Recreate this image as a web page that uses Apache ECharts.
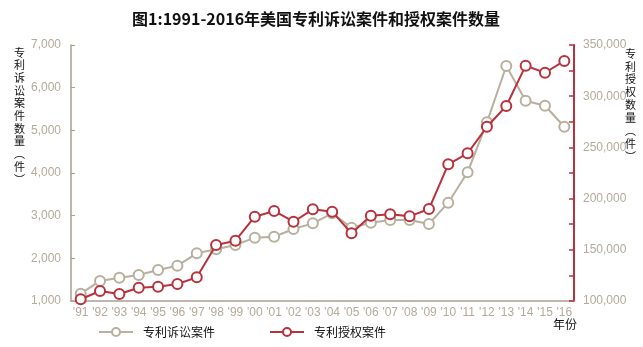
<!DOCTYPE html>
<html><head><meta charset="utf-8">
<script src="https://cdn.jsdelivr.net/npm/echarts@6/dist/echarts.min.js"></script>
<style>html,body{margin:0;padding:0;background:#fff}#c{width:643px;height:347px}</style>
</head><body><div id="c"></div>
<script>
const years = ["'91","'92","'93","'94","'95","'96","'97","'98","'99","'00","'01","'02","'03","'04","'05","'06","'07","'08","'09","'10","'11","'12","'13","'14","'15","'16"];
const litigation = [1171,1470,1546,1609,1726,1827,2117,2211,2312,2484,2507,2687,2820,3055,2718,2835,2898,2898,2805,3304,4016,5188,6508,5695,5577,5085];
const grants = [101700,109800,106800,113000,114000,116600,123100,154700,158900,182300,187900,177400,189500,187200,166100,183300,184700,182700,189800,233500,244200,270200,290400,329800,322900,334400];
const leftTicks = {min:1000,max:7000,interval:1000};
const rightTicks = {min:100000,max:350000,interval:25000};

const GRAY='#b7b09e', RED='#b8323b', LBL='#b3ab9b', AXIS='#a9a08e';
const chart = echarts.init(document.getElementById('c'));
const fmt = v => v.toString().replace(/\B(?=(\d{3})+(?!\d))/g, ',');
chart.setOption({
  animation:false,
  title:{text:'图1:1991-2016年美国专利诉讼案件和授权案件数量',left:127,top:6,
    textStyle:{fontFamily:'Noto Sans CJK SC',fontSize:16,fontWeight:'bold',color:'#111'}},
  grid:{left:71,right:69,top:45,bottom:46},
  legend:{left:93,top:321,itemWidth:34,itemHeight:10,itemGap:54,
    textStyle:{fontFamily:'Noto Sans CJK SC',fontSize:12,color:'#111',padding:[0,0,0,5]},
    data:['专利诉讼案件','专利授权案件']},
  xAxis:{type:'category',data:years,boundaryGap:true,
    axisLine:{lineStyle:{color:AXIS,width:1.5}},
    axisTick:{inside:true,length:5,lineStyle:{color:AXIS}},
    axisLabel:{color:LBL,fontFamily:'Liberation Sans',fontSize:12,margin:6,interval:0}},
  yAxis:[
    {type:'value',min:leftTicks.min,max:leftTicks.max,interval:leftTicks.interval,position:'left',
     splitLine:{show:false},
     axisLine:{show:true,lineStyle:{color:AXIS,width:1.5}},
     axisTick:{show:true,inside:true,length:4,lineStyle:{color:AXIS}},
     axisLabel:{color:LBL,fontFamily:'Liberation Sans',fontSize:12,margin:10,formatter:fmt}},
    {type:'value',min:rightTicks.min,max:rightTicks.max,interval:rightTicks.interval,position:'right',
     splitLine:{show:false},
     axisLine:{show:true,lineStyle:{color:RED,width:2}},
     axisTick:{show:true,inside:true,length:5,lineStyle:{color:RED,width:1.5}},
     axisLabel:{color:LBL,fontFamily:'Liberation Sans',fontSize:12,margin:9,
       formatter:v=> (v%50000===0? fmt(v):'')}}
  ],
  series:[
    {name:'专利诉讼案件',type:'line',yAxisIndex:0,data:litigation,symbol:'circle',symbolSize:10,
     lineStyle:{color:GRAY,width:2},itemStyle:{color:'#fff',borderColor:GRAY,borderWidth:2},color:GRAY,z:2},
    {name:'专利授权案件',type:'line',yAxisIndex:1,data:grants,symbol:'circle',symbolSize:10,
     lineStyle:{color:RED,width:2},itemStyle:{color:'#fff',borderColor:RED,borderWidth:2},color:RED,z:3}
  ],
  graphic:[
    {type:'text',left:14,top:46,style:{text:'专\n利\n诉\n讼\n案\n件\n数\n量\n︵\n件\n︶',
      font:'11px "Noto Sans CJK SC"',lineHeight:12.7,fill:'#111'}},
    {type:'text',left:625,top:47,style:{text:'专\n利\n授\n权\n数\n量\n︵\n件\n︶',
      font:'11px "Noto Sans CJK SC"',lineHeight:12.9,fill:'#111'}},
    {type:'text',left:553,top:318,style:{text:'年份',font:'12px "Noto Sans CJK SC"',fill:'#111'}}
  ]
});
</script></body></html>
